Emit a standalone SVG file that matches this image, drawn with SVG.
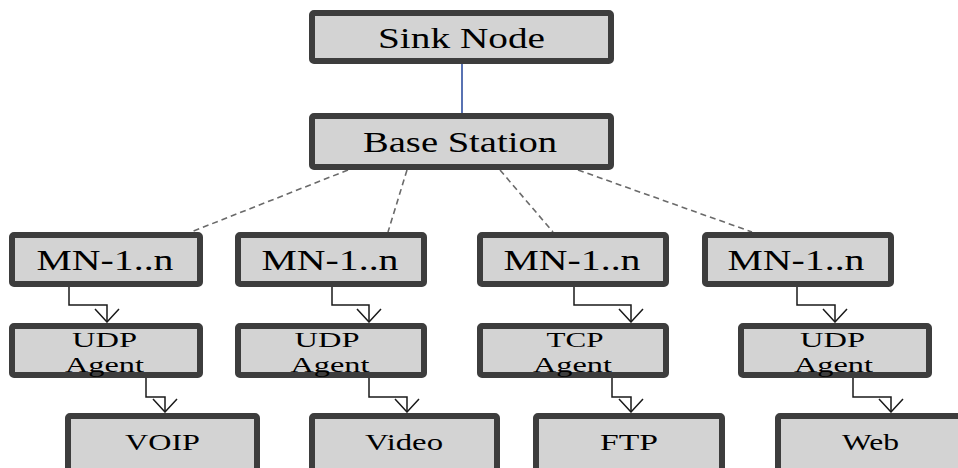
<svg xmlns="http://www.w3.org/2000/svg" width="958" height="468" viewBox="0 0 958 468">
  <style>
    .box { fill: #d3d3d3; stroke: #3d3d3d; stroke-width: 6; }
    text { font-family: "Liberation Serif", "DejaVu Serif", "Times New Roman", serif; fill: #000; text-anchor: middle; }
    .big { font-size: 29px; }
    .mid { font-size: 22px; }
    .sml { font-size: 23px; }
    .dash { stroke: #6a6a6a; stroke-width: 1.6; stroke-dasharray: 6 4; fill: none; }
    .flow { stroke: #1a1a1a; stroke-width: 1.5; fill: none; }
  </style>
  <defs>
    <marker id="openArrow" viewBox="0 0 26 15" refX="13" refY="14" markerWidth="26" markerHeight="15" markerUnits="userSpaceOnUse" orient="0">
      <path d="M1,1 L13,14 L25,1" fill="none" stroke="#1a1a1a" stroke-width="1.5"/>
    </marker>
  </defs>

  <!-- connectors -->
  <g id="connectors">
    <line x1="462" y1="64" x2="462" y2="113" stroke="#2f4f9f" stroke-width="1.6"/>
    <line class="dash" x1="348" y1="170" x2="191" y2="232"/>
    <line class="dash" x1="407" y1="170" x2="388" y2="232"/>
    <line class="dash" x1="500" y1="170" x2="553" y2="232"/>
    <line class="dash" x1="578" y1="170" x2="752" y2="232"/>

    <polyline class="flow" points="69,287 69,305 107,305 107,322" marker-end="url(#openArrow)"/>
    <polyline class="flow" points="146,378 146,397 165,397 165,412" marker-end="url(#openArrow)"/>
    <polyline class="flow" points="332,287 332,305 369,305 369,322" marker-end="url(#openArrow)"/>
    <polyline class="flow" points="369,378 369,397 407,397 407,412" marker-end="url(#openArrow)"/>
    <polyline class="flow" points="574,287 574,305 631,305 631,322" marker-end="url(#openArrow)"/>
    <polyline class="flow" points="612,378 612,397 631,397 631,412" marker-end="url(#openArrow)"/>
    <polyline class="flow" points="797,287 797,305 835,305 835,322" marker-end="url(#openArrow)"/>
    <polyline class="flow" points="853,378 853,397 891,397 891,412" marker-end="url(#openArrow)"/>
  </g>

  <g id="sink-node">
    <rect class="box" x="312" y="13" width="299" height="48" rx="2"/>
    <text class="big" x="461.5" y="48" textLength="167" lengthAdjust="spacingAndGlyphs">Sink Node</text>
  </g>
  <g id="base-station">
    <rect class="box" x="312" y="116" width="299" height="51" rx="2"/>
    <text class="big" x="460" y="152" textLength="194" lengthAdjust="spacingAndGlyphs">Base Station</text>
  </g>

  <g id="mn-1">
    <rect class="box" x="12" y="235" width="188" height="49" rx="2"/>
    <text class="big" x="105" y="270" textLength="137" lengthAdjust="spacingAndGlyphs">MN-1..n</text>
  </g>
  <g id="mn-2">
    <rect class="box" x="238" y="235" width="186" height="49" rx="2"/>
    <text class="big" x="330" y="270" textLength="137" lengthAdjust="spacingAndGlyphs">MN-1..n</text>
  </g>
  <g id="mn-3">
    <rect class="box" x="480" y="235" width="186" height="49" rx="2"/>
    <text class="big" x="572" y="270" textLength="137" lengthAdjust="spacingAndGlyphs">MN-1..n</text>
  </g>
  <g id="mn-4">
    <rect class="box" x="705" y="235" width="186" height="49" rx="2"/>
    <text class="big" x="796" y="270" textLength="137" lengthAdjust="spacingAndGlyphs">MN-1..n</text>
  </g>

  <g id="agent-1">
    <rect class="box" x="12" y="326" width="188" height="49" rx="2"/>
    <text class="mid" x="104.5" y="347" textLength="65" lengthAdjust="spacingAndGlyphs">UDP</text>
    <text class="mid" x="104.5" y="372" textLength="79" lengthAdjust="spacingAndGlyphs">Agent</text>
  </g>
  <g id="agent-2">
    <rect class="box" x="238" y="326" width="186" height="49" rx="2"/>
    <text class="mid" x="327" y="347" textLength="65" lengthAdjust="spacingAndGlyphs">UDP</text>
    <text class="mid" x="330" y="372" textLength="79" lengthAdjust="spacingAndGlyphs">Agent</text>
  </g>
  <g id="agent-3">
    <rect class="box" x="480" y="326" width="186" height="49" rx="2"/>
    <text class="mid" x="575" y="347" textLength="57" lengthAdjust="spacingAndGlyphs">TCP</text>
    <text class="mid" x="572.5" y="372" textLength="79" lengthAdjust="spacingAndGlyphs">Agent</text>
  </g>
  <g id="agent-4">
    <rect class="box" x="741" y="326" width="188" height="49" rx="2"/>
    <text class="mid" x="832.5" y="347" textLength="65" lengthAdjust="spacingAndGlyphs">UDP</text>
    <text class="mid" x="833.5" y="372" textLength="79" lengthAdjust="spacingAndGlyphs">Agent</text>
  </g>

  <g id="voip">
    <rect class="box" x="68" y="416" width="189" height="60" rx="2"/>
    <text class="sml" x="162.5" y="450" textLength="75" lengthAdjust="spacingAndGlyphs">VOIP</text>
  </g>
  <g id="video">
    <rect class="box" x="312" y="416" width="185" height="60" rx="2"/>
    <text class="sml" x="404" y="450" textLength="78" lengthAdjust="spacingAndGlyphs">Video</text>
  </g>
  <g id="ftp">
    <rect class="box" x="536" y="416" width="186" height="60" rx="2"/>
    <text class="sml" x="629" y="450" textLength="58" lengthAdjust="spacingAndGlyphs">FTP</text>
  </g>
  <g id="web">
    <rect class="box" x="778" y="416" width="186" height="60" rx="2"/>
    <text class="sml" x="870.5" y="450" textLength="57" lengthAdjust="spacingAndGlyphs">Web</text>
  </g>
</svg>
